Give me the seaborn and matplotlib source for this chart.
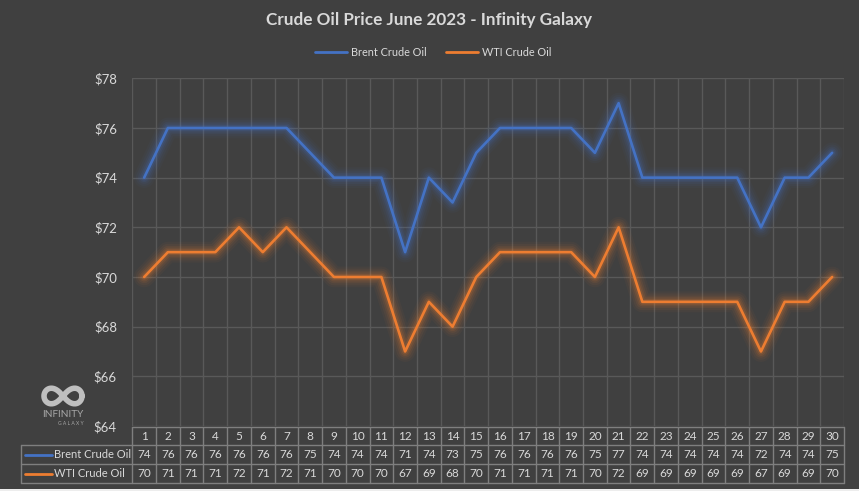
import numpy as np
import pandas as pd
import matplotlib
matplotlib.use("Agg")
import matplotlib.pyplot as plt
import matplotlib.transforms as mtransforms
from matplotlib.lines import Line2D
from matplotlib.patches import Rectangle
import seaborn as sns

days = list(range(1, 31))
brent = [74, 76, 76, 76, 76, 76, 76, 75, 74, 74, 74, 71, 74, 73, 75,
         76, 76, 76, 76, 75, 77, 74, 74, 74, 74, 74, 72, 74, 74, 75]
wti = [70, 71, 71, 71, 72, 71, 72, 71, 70, 70, 70, 67, 69, 68, 70,
       71, 71, 71, 71, 70, 72, 69, 69, 69, 69, 69, 67, 69, 69, 70]
series_names = ["Brent Crude Oil", "WTI Crude Oil"]
colors = ["#4472C4", "#ED7D31"]
yticks = [64, 66, 68, 70, 72, 74, 76, 78]
title = "Crude Oil Price June 2023 - Infinity Galaxy"

BG = "#404040"
GRID = "#595959"
TXT = "#D9D9D9"
BORDER = "#7F7F7F"

sns.set_theme(style="dark")
plt.rcParams["font.family"] = ["Lato", "DejaVu Sans"]

W, H = 859, 491
fig = plt.figure(figsize=(W / 100, H / 100), dpi=100, facecolor=BG)
L, R, T, B = 132.3, 844.0, 78.3, 426.0
ax = fig.add_axes([L / W, 1 - B / H, (R - L) / W, (B - T) / H])
ax.set_facecolor(BG)

df = pd.DataFrame({"idx": list(range(len(days))) * 2,
                   "price": brent + wti,
                   "series": [series_names[0]] * len(days) + [series_names[1]] * len(days)})
pal = dict(zip(series_names, colors))

# soft glow layers
for lw, a in [(15, 0.045), (12, 0.06), (9, 0.08), (6.5, 0.11), (4.2, 0.16)]:
    for name in series_names:
        sub = df[df.series == name]
        ax.plot(sub.idx, sub.price, color=pal[name], lw=lw, alpha=a,
                solid_joinstyle="round", solid_capstyle="round", zorder=2)
sns.lineplot(data=df, x="idx", y="price", hue="series", palette=pal,
             linewidth=1.9, ax=ax, legend=False, zorder=3)

ax.set_xlim(-0.5, len(days) - 0.5)
ax.set_ylim(yticks[0], yticks[-1])
ax.set_yticks(yticks)
ax.set_yticklabels([f"${v}" for v in yticks], color=TXT, fontsize=9.5)
ax.set_xticks(np.arange(len(days) + 1) - 0.5)
ax.set_xticklabels([])
ax.tick_params(axis="both", length=0, pad=11)
ax.grid(True, color=GRID, lw=1)
ax.set_xlabel("")
ax.set_ylabel("")
for s in ax.spines.values():
    s.set_visible(False)

# title
fig.text(429 / W, 1 - 20 / H, title, ha="center", va="center",
         fontsize=12.3, fontweight="bold", color=TXT)

# legend
handles = [Line2D([], [], color=c, lw=2) for c in colors]
fig.legend(handles, series_names, loc="center", bbox_to_anchor=(433 / W, 1 - 52 / H),
           ncol=2, frameon=False, fontsize=7.8, labelcolor=TXT,
           handlelength=3.0, handletextpad=0.3, columnspacing=1.8)

# data table
blend = mtransforms.blended_transform_factory(ax.transData, fig.transFigure)
figpx = fig.transFigure
y_rows = [427.3, 445.3, 464.3, 483.3]
yf = [1 - v / H for v in y_rows]
tleft = 21.3 / W
n = len(days)
def hline(x0, x1, y, tr):
    fig.add_artist(Line2D([x0, x1], [y, y], transform=tr, color=BORDER, lw=1))
def vline(x, y0, y1, tr):
    fig.add_artist(Line2D([x, x], [y0, y1], transform=tr, color=BORDER, lw=1))

hline(-0.5, n - 0.5, yf[0], blend)
for y in yf[1:]:
    hline(tleft, R / W, y, figpx)
for i in range(n + 1):
    vline(i - 0.5, yf[0], yf[3], blend)
vline(tleft, yf[1], yf[3], figpx)

rows = [days, brent, wti]
for r, vals in enumerate(rows):
    yc = (yf[r] + yf[r + 1]) / 2
    for i, v in enumerate(vals):
        fig.text(i, yc, str(v), transform=blend, ha="center", va="center",
                 fontsize=8.5, color=TXT)
for r, (name, c) in enumerate(zip(series_names, colors)):
    yc = (yf[r + 1] + yf[r + 2]) / 2
    fig.add_artist(Line2D([25 / W, 52 / W], [yc, yc], transform=figpx, color=c, lw=2))
    fig.text(54.5 / W, yc, name, transform=figpx, ha="left", va="center",
             fontsize=8.0, color=TXT)

# logo: drawn infinity loop + text
t = np.linspace(0, 2 * np.pi, 200)
den = 1 + np.sin(t) ** 2
lx = 63 + 19 * np.cos(t) / den
ly = 396 + 22 * np.sin(t) * np.cos(t) / den
fig.add_artist(Line2D(lx / W, 1 - ly / H, transform=figpx, color="#BFBFBF",
                      lw=4.0, solid_joinstyle="round"))
fig.text(63 / W, 1 - 414.5 / H, "INFINITY", ha="center", va="center", fontsize=7.2,
         color="#A6A6A6")
fig.text(71 / W, 1 - 423.5 / H, "G A L A X Y", ha="center", va="center", fontsize=3.6,
         color="#A6A6A6")

fig.patches.append(Rectangle((0, 0), 1, 2.5 / H, transform=fig.transFigure,
                             facecolor="#EDEDED", edgecolor="none"))

fig.savefig("out.png", dpi=100, facecolor=BG)
